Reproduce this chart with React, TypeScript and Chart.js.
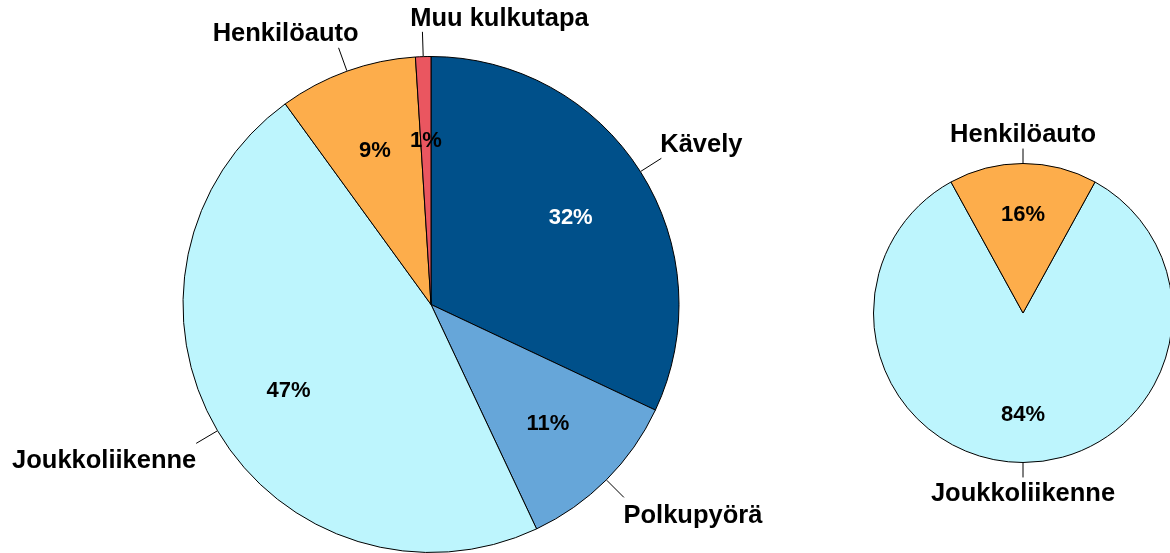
import React, { useEffect, useRef } from "react";
import { Chart, registerables } from "chart.js";

Chart.register(...registerables);

// Left pie
const leftCategories = ["Kävely", "Polkupyörä", "Joukkoliikenne", "Henkilöauto", "Muu kulkutapa"];
const leftValues = [32, 11, 47, 9, 1];
const leftColors = ["#00508A", "#66A6D9", "#BDF5FD", "#FDAD4B", "#EA5660"];
const leftPctColors = ["#FFFFFF", "#000000", "#000000", "#000000", "#000000"];

// Right pie
const rightCategories = ["Joukkoliikenne", "Henkilöauto"];
const rightValues = [84, 16];
const rightColors = ["#BDF5FD", "#FDAD4B"];
const rightPctColors = ["#000000", "#000000"];

const FONT = '"Liberation Sans", Arial, sans-serif';

type Off = { dx: number; dy: number };

function makeLabelPlugin(
  names: string[],
  values: number[],
  pctColors: string[],
  offsets: Off[],
  leaderFrac: number
) {
  return {
    id: "pieLabels",
    afterDatasetsDraw(chart: any) {
      const ctx: CanvasRenderingContext2D = chart.ctx;
      const meta = chart.getDatasetMeta(0);
      ctx.save();
      meta.data.forEach((arc: any, i: number) => {
        const p = arc.getProps(["x", "y", "startAngle", "endAngle", "outerRadius"], true);
        const mid = (p.startAngle + p.endAngle) / 2;
        const cos = Math.cos(mid);
        const sin = Math.sin(mid);
        // percent
        const pr = p.outerRadius * 0.667;
        ctx.font = `bold 22px ${FONT}`;
        ctx.fillStyle = pctColors[i];
        ctx.textAlign = "center";
        ctx.textBaseline = "middle";
        ctx.fillText(`${values[i]}%`, p.x + cos * pr, p.y + sin * pr + 2);
        // leader
        const r0 = p.outerRadius + 0.5;
        const r1 = p.outerRadius * (1 + leaderFrac);
        const ex = p.x + cos * r1;
        const ey = p.y + sin * r1;
        ctx.beginPath();
        ctx.strokeStyle = "#000000";
        ctx.lineWidth = 1;
        ctx.moveTo(p.x + cos * r0, p.y + sin * r0);
        ctx.lineTo(ex, ey);
        ctx.stroke();
        // category label
        ctx.font = `bold 25.5px ${FONT}`;
        ctx.fillStyle = "#000000";
        ctx.fillText(names[i], ex + offsets[i].dx, ey + offsets[i].dy + 2);
      });
      ctx.restore();
    },
  };
}

function PieCanvas(props: {
  width: number;
  height: number;
  left: number;
  names: string[];
  values: number[];
  colors: string[];
  pctColors: string[];
  rotation: number;
  padding: { left: number; top: number; right: number; bottom: number };
  offsets: Off[];
  leaderFrac: number;
}) {
  const ref = useRef<HTMLCanvasElement | null>(null);
  useEffect(() => {
    if (!ref.current) return;
    const chart = new Chart(ref.current, {
      type: "pie",
      data: {
        labels: props.names,
        datasets: [
          {
            data: props.values,
            backgroundColor: props.colors,
            borderColor: "#000000",
            borderWidth: 1,
            hoverOffset: 0,
          },
        ],
      },
      options: {
        responsive: false,
        animation: false,
        rotation: props.rotation,
        layout: { padding: props.padding },
        plugins: { legend: { display: false }, tooltip: { enabled: false } },
        events: [],
      },
      plugins: [
        makeLabelPlugin(props.names, props.values, props.pctColors, props.offsets, props.leaderFrac),
      ],
    } as any);
    return () => chart.destroy();
  }, []);
  return (
    <canvas
      ref={ref}
      width={props.width}
      height={props.height}
      style={{ position: "absolute", left: props.left, top: 0, width: props.width, height: props.height }}
    />
  );
}

export default function App() {
  const rightTotal = rightValues.reduce((a, b) => a + b, 0);
  const rightRotation = 180 * (rightValues[1] / rightTotal);
  return (
    <div
      style={{
        position: "absolute",
        left: 0,
        top: 0,
        width: 1170,
        height: 553,
        overflow: "hidden",
        background: "#FFFFFF",
      }}
    >
      <PieCanvas
        width={1170}
        height={553}
        left={0}
        names={leftCategories}
        values={leftValues}
        colors={leftColors}
        pctColors={leftPctColors}
        rotation={0}
        padding={{ left: 182, top: 56, right: 490, bottom: 0 }}
        offsets={[
          { dx: 40, dy: -15 },
          { dx: 69, dy: 17 },
          { dx: -92, dy: 16 },
          { dx: -53, dy: -16 },
          { dx: 77, dy: -15 },
        ]}
        leaderFrac={0.1}
      />
      <PieCanvas
        width={400}
        height={553}
        left={800}
        names={rightCategories}
        values={rightValues}
        colors={rightColors}
        pctColors={rightPctColors}
        rotation={rightRotation}
        padding={{ left: 73, top: 163, right: 27, bottom: 90 }}
        offsets={[
          { dx: 0, dy: 15 },
          { dx: 0, dy: -16 },
        ]}
        leaderFrac={0.1}
      />
    </div>
  );
}
